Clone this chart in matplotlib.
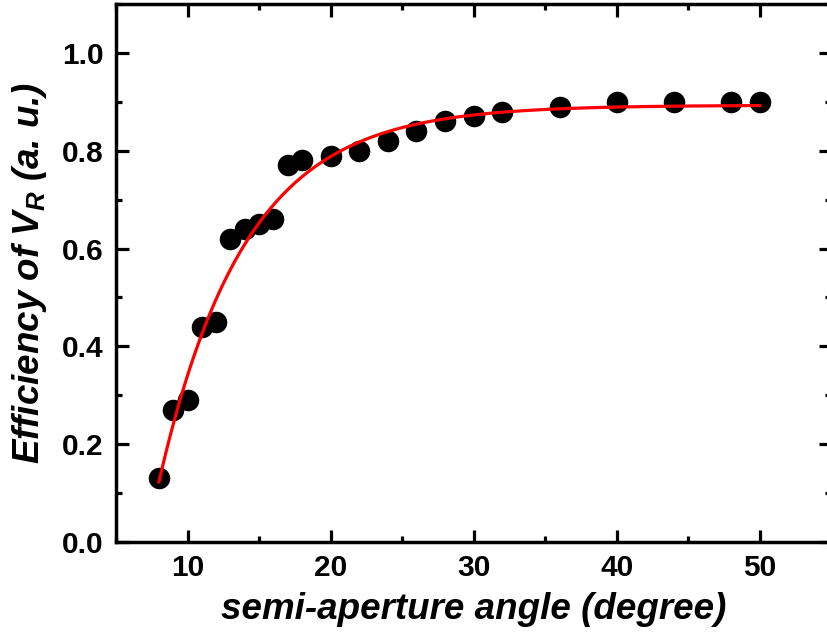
import numpy as np
import matplotlib
matplotlib.use("Agg")
import matplotlib.pyplot as plt
from matplotlib.ticker import MultipleLocator

# measured points
angle = [8, 9, 10, 11, 12, 13, 14, 15, 16, 17, 18, 20, 22, 24, 26, 28, 30, 32, 36, 40, 44, 48, 50]
efficiency = [0.13, 0.27, 0.29, 0.44, 0.45, 0.62, 0.64, 0.65, 0.66, 0.77, 0.78, 0.79, 0.80,
              0.82, 0.84, 0.86, 0.87, 0.88, 0.89, 0.90, 0.90, 0.90, 0.90]

# exponential fit y = A - B*exp(-(x - x0)/t), parameters
fit_A = 0.893
fit_B = 0.77
fit_x0 = 8.0
fit_t = 6.02

plt.rcParams['font.family'] = ['Liberation Sans', 'DejaVu Sans']
plt.rcParams['font.weight'] = 'bold'
plt.rcParams['mathtext.fontset'] = 'custom'
plt.rcParams['mathtext.rm'] = 'Liberation Sans:italic:bold'
plt.rcParams['mathtext.it'] = 'Liberation Sans:italic:bold'

fig = plt.figure(figsize=(8.27, 6.39), dpi=100)
ax = fig.add_axes([0.1403, 0.1518, 0.865, 0.842])

xfit = np.linspace(min(angle), max(angle), 300)
yfit = fit_A - fit_B * np.exp(-(xfit - fit_x0) / fit_t)

ax.plot(angle, efficiency, 'o', color='black', markersize=14.5, zorder=2)
ax.plot(xfit, yfit, color='red', linewidth=2.3, zorder=3)

ax.set_xlim(5, 55)
ax.set_ylim(0, 1.1)
ax.xaxis.set_major_locator(MultipleLocator(10))
ax.xaxis.set_minor_locator(MultipleLocator(5))
ax.yaxis.set_major_locator(MultipleLocator(0.2))
ax.yaxis.set_minor_locator(MultipleLocator(0.1))
ax.set_xticks([10, 20, 30, 40, 50])
ax.set_yticks([0.0, 0.2, 0.4, 0.6, 0.8, 1.0])
ax.set_yticklabels(['0.0', '0.2', '0.4', '0.6', '0.8', '1.0'])

for s in ax.spines.values():
    s.set_linewidth(2.5)

ax.tick_params(which='both', direction='in', top=True, right=True, width=2.3)
ax.tick_params(which='major', length=9, labelsize=21.5)
ax.tick_params(which='minor', length=4.5)
ax.tick_params(axis='x', which='major', pad=9)
ax.tick_params(axis='y', which='major', pad=9)

ax.set_xlabel('semi-aperture angle (degree)', fontsize=26.5, fontweight='bold',
              fontstyle='italic', labelpad=7)
ax.set_ylabel(r'Efficiency of $V_R$ (a. u.)', fontsize=26.5, fontweight='bold',
              fontstyle='italic', labelpad=9)

fig.savefig('out.png', dpi=100)
